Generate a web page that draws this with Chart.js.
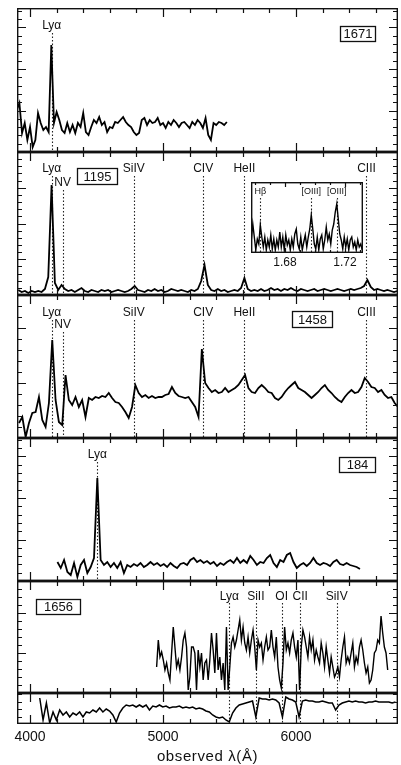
<!DOCTYPE html>
<html>
<head>
<meta charset="utf-8">
<script src="https://cdn.jsdelivr.net/npm/chart.js"></script>
<style>
  body { margin: 0; background: #fff; }
  #fig { position: relative; width: 401px; height: 765px; background: #fff; overflow: hidden; }
  #fig canvas { position: absolute; }
</style>
</head>
<body>
<div id="fig"></div>
<script>
// ---- wavelength axis (Angstrom) ----
const waveMin = 3902, waveMax = 6767;
const majorTicks = [4000, 5000, 6000];
const minorTicks = [4200, 4400, 4600, 4800, 5200, 5400, 5600, 5800, 6200, 6400, 6600];
const tickLabels = ["4000", "5000", "6000"];
const axisTitle = "observed λ(Å)";

// ---- 1671 ----
const p1Start = 3900, p1Step = 20;
const p1Flux = [42, 49, 19, 29, 12, 25, 5, 12, 39, 29, 22, 25, 20, 107, 29, 40, 32, 22, 19, 29,
  20, 27, 19, 29, 25, 39, 20, 17, 25, 32, 29, 35, 27, 30, 20, 25, 24, 30, 29, 32,
  35, 30, 27, 25, 20, 17, 19, 32, 34, 27, 32, 29, 30, 34, 27, 29, 24, 30, 27, 32,
  29, 25, 29, 30, 27, 24, 30, 27, 32, 29, 24, 34, 17, 12, 29, 27, 30, 29, 27, 30];
const p1Lines = [4163];
const p1Names = ["Lyα"];

// ---- 1195 ----
const p2Start = 3912, p2Step = 25;
const p2Flux = [5, 3, 4, 2, 4, 3, 4, 3, 6, 18, 110, 12, 5, 10, 6, 4, 5, 3, 5, 7,
  4, 3, 5, 4, 3, 5, 4, 5, 3, 4, 5, 4, 3, 4, 6, 9, 5, 4, 3, 5,
  4, 6, 4, 5, 3, 4, 6, 5, 4, 5, 4, 3, 5, 4, 6, 14, 30, 10, 5, 4,
  6, 4, 5, 3, 4, 5, 4, 7, 17, 6, 4, 5, 4, 6, 4, 5, 7, 5, 6, 4,
  6, 5, 7, 5, 4, 6, 5, 4, 5, 6, 4, 5, 6, 5, 4, 5, 6, 5, 4, 5,
  6, 5, 6, 7, 9, 15, 8, 5, 6, 5, 4, 5, 4, 3, 4];
const qsoLines = [4163, 4245, 4780, 5302, 5612, 6530];
const qsoNames = ["Lyα", "NV", "SiIV", "CIV", "HeII", "CIII"];

// inset: near-infrared, micron
const insetStart = 1.6575, insetStep = 0.001;
const insetFlux = [13, 29, 16, 3, 14, 9, 28, 16, 6, 16, 3, 13, 6, 18, 4, 14, 3, 13, 6, 21,
  6, 16, 3, 18, 8, 13, 3, 14, 6, 19, 24, 9, 4, 16, 3, 11, 18, 6, 16, 24,
  38, 24, 9, 4, 16, 3, 14, 18, 4, 13, 26, 13, 19, 9, 23, 29, 41, 49, 34, 19,
  13, 4, 16, 6, 14, 3, 13, 16, 6, 11, 3, 13, 6, 9, 3];
const insetLines = [1.6635, 1.6975, 1.7145];
const insetNames = ["Hβ", "[OIII]", "[OIII]"];
const insetMajor = [1.68, 1.72];
const insetMinor = [1.66, 1.67, 1.69, 1.70, 1.71, 1.73];
const insetLabels = ["1.68", "1.72"];

// ---- 1458 ----
const p3Start = 3917, p3Step = 25;
const p3Flux = [15, 21, 1, 15, 25, 26, 41, 18, 11, 35, 98, 38, 16, 13, 63, 38, 33, 41, 31, 38,
  21, 40, 38, 41, 40, 42, 41, 45, 40, 36, 35, 31, 26, 20, 31, 53, 45, 41, 43, 40,
  42, 40, 41, 41, 43, 44, 51, 45, 42, 41, 40, 41, 36, 31, 21, 89, 55, 50, 46, 48,
  45, 46, 50, 46, 48, 50, 53, 58, 63, 50, 46, 45, 50, 53, 50, 46, 45, 40, 38, 41,
  46, 50, 53, 56, 50, 48, 46, 43, 40, 43, 46, 50, 53, 48, 45, 41, 38, 36, 41, 45,
  48, 45, 46, 51, 60, 56, 51, 50, 46, 48, 43, 40, 41, 35, 31];

// ---- 184 ----
const p4Start = 4206, p4Step = 25;
const p4Flux = [19, 13, 21, 9, 6, 18, 4, 16, 21, 8, 14, 23, 103, 21, 16, 19, 14, 18, 13, 19,
  8, 16, 14, 17, 15, 18, 14, 16, 19, 16, 18, 15, 17, 14, 18, 15, 13, 17, 18, 16,
  21, 23, 19, 21, 18, 20, 17, 19, 15, 18, 16, 19, 21, 18, 23, 18, 21, 18, 25, 21,
  16, 19, 18, 23, 26, 18, 14, 21, 19, 26, 28, 19, 13, 16, 18, 15, 18, 23, 18, 16,
  18, 17, 15, 19, 21, 17, 16, 18, 16, 15, 14, 12];
const p4Lines = [4506];
const p4Names = ["Lyα"];

// ---- 1656 and the template below it ----
const p5Start = 4952, p5Step = 12.5;
const p5Flux = [26, 53, 36, 41, 33, 23, 30, 20, 13, 40, 66, 46, 26, 33, 23, 36, 53, 60, 46, 3,
  16, 46, 46, 40, 3, 43, 26, 40, 13, 30, 33, 13, 33, 60, 43, 20, 60, 23, 36, 13,
  30, 3, 66, 3, 26, 50, 56, 46, 53, 63, 73, 53, 66, 50, 43, 56, 40, 53, 63, 46,
  23, 53, 46, 50, 33, 46, 56, 43, 46, 63, 46, 36, 56, 26, 13, 5, 30, 66, 43, 50,
  40, 53, 60, 46, 36, 53, 3, 46, 63, 56, 46, 36, 56, 43, 53, 33, 43, 36, 30, 50,
  40, 26, 46, 33, 20, 36, 26, 16, 20, 26, 16, 33, 46, 56, 30, 36, 30, 40, 50, 26,
  36, 30, 46, 53, 43, 30, 20, 26, 10, 13, 23, 40, 43, 53, 50, 77, 60, 46, 40, 23];
const tplStart = 4073, tplStep = 25;
const tplFlux = [26, 4, 21, 1, 12, 4, 14, 9, 12, 7, 11, 9, 12, 7, 12, 11, 14, 12, 16, 12,
  15, 13, 9, 2, 11, 16, 19, 18, 19, 17, 19, 17, 19, 14, 18, 17, 19, 17, 18, 16,
  17, 17, 18, 16, 17, 16, 17, 15, 16, 15, 13, 12, 9, 7, 6, 7, 4, 2, 11, 16,
  19, 20, 21, 22, 23, 7, 26, 25, 25, 24, 25, 24, 21, 7, 27, 25, 24, 22, 7, 23,
  24, 23, 23, 22, 22, 23, 22, 21, 21, 14, 19, 21, 22, 23, 22, 23, 22, 22, 21, 22,
  22, 23, 22, 22, 22, 22, 21, 22];
const p5Lines = [5498, 5698, 5892, 6032, 6306];
const p5Names = ["Lyα", "SiII", "OI", "CII", "SiIV"];

// ---------------------------------------------------------------
const FONT = '"Liberation Sans", Arial, sans-serif';
const fig = document.getElementById("fig");

function spectrum(start, step, flux) {
  return flux.map((f, i) => ({ x: start + i * step, y: f }));
}

function makeCanvas(left, top, w, h) {
  const c = document.createElement("canvas");
  c.width = w; c.height = h;
  c.style.left = left + "px"; c.style.top = top + "px";
  c.style.width = w + "px"; c.style.height = h + "px";
  fig.appendChild(c);
  return c;
}

// frame, inward ticks, dotted line markers, labels and the id box
function decor(cfg) {
  return {
    id: "decor",
    beforeDatasetsDraw(chart) {
      const { ctx, chartArea: a, scales: { x } } = chart;
      if (cfg.fill) {
        ctx.fillStyle = "#fff";
        ctx.fillRect(a.left, a.top, a.right - a.left, a.bottom - a.top);
      }
      if (!cfg.lines) return;
      ctx.save();
      ctx.strokeStyle = "#222";
      ctx.lineWidth = 1.1;
      ctx.setLineDash([1.5, 2]);
      cfg.lines.forEach((w, i) => {
        const px = Math.round(x.getPixelForValue(w)) + 0.5;
        const row = cfg.rows ? cfg.rows[i] : 0;
        const y0 = cfg.dashTop ? a.top + cfg.dashTop[row] : a.top;
        ctx.beginPath();
        ctx.moveTo(px, y0);
        ctx.lineTo(px, a.bottom);
        ctx.stroke();
      });
      ctx.restore();
    },
    afterDraw(chart) {
      const { ctx, chartArea: a, scales: { x, y } } = chart;
      ctx.save();
      ctx.strokeStyle = "#111";
      ctx.lineWidth = 1.4;
      ctx.strokeRect(a.left + 0.7, a.top + 0.7, a.right - a.left - 1.4, a.bottom - a.top - 1.4);
      ctx.lineWidth = 1.2;

      const xTicks = (vals, len) => vals.forEach(v => {
        const px = Math.round(x.getPixelForValue(v)) + 0.5;
        ctx.beginPath();
        ctx.moveTo(px, a.top); ctx.lineTo(px, a.top + len);
        ctx.moveTo(px, a.bottom); ctx.lineTo(px, a.bottom - len);
        ctx.stroke();
      });
      xTicks(cfg.xMinor, cfg.tickLen[0]);
      xTicks(cfg.xMajor, cfg.tickLen[1]);

      if (cfg.yStep) {
        for (let n = 1; n * cfg.yStep < y.max; n++) {
          const py = Math.round(y.getPixelForValue(n * cfg.yStep)) + 0.5;
          const len = n % cfg.yMajorEvery === 0 ? 9 : 5;
          ctx.beginPath();
          ctx.moveTo(a.left, py); ctx.lineTo(a.left + len, py);
          ctx.moveTo(a.right, py); ctx.lineTo(a.right - len, py);
          ctx.stroke();
        }
      }

      ctx.fillStyle = "#111";
      ctx.textAlign = "center";
      ctx.textBaseline = "middle";
      if (cfg.names) {
        ctx.font = cfg.labelFont;
        cfg.names.forEach((name, i) => {
          const row = cfg.rows ? cfg.rows[i] : 0;
          ctx.fillText(name, x.getPixelForValue(cfg.lines[i]), a.top + cfg.labelY[row]);
        });
      }
      if (cfg.tag) {
        const t = cfg.tag;
        ctx.lineWidth = 1.3;
        ctx.strokeRect(a.left + t.x + 0.5, a.top + t.y + 0.5, t.w, t.h);
        ctx.font = "13px " + FONT;
        ctx.fillText(t.text, a.left + t.x + t.w / 2 + 0.5, a.top + t.y + t.h / 2 + 1);
      }
      if (cfg.tickText) {
        ctx.font = cfg.tickFont;
        cfg.tickText.forEach((s, i) => {
          ctx.fillText(s, x.getPixelForValue(cfg.xMajor[i]), a.bottom + cfg.tickTextDy);
        });
      }
      if (cfg.title) {
        ctx.font = "15px " + FONT;
        ctx.letterSpacing = "0.6px";
        ctx.fillText(cfg.title, (a.left + a.right) / 2, a.bottom + cfg.titleDy);
      }
      ctx.restore();
    }
  };
}

function panel(cfg) {
  const pad = 3;
  const below = cfg.below || pad;
  const c = makeCanvas(cfg.left - pad, cfg.top - pad, cfg.width + 2 * pad, cfg.height + pad + below);
  return new Chart(c, {
    type: "line",
    data: {
      datasets: [{
        data: cfg.points,
        borderColor: "#000",
        borderWidth: cfg.lineWidth || 1.8,
        pointRadius: 0,
        tension: 0,
        fill: false
      }]
    },
    options: {
      responsive: false,
      animation: false,
      events: [],
      layout: { padding: { left: pad, right: pad, top: pad, bottom: below } },
      scales: {
        x: { type: "linear", min: cfg.xMin, max: cfg.xMax, display: false },
        y: { type: "linear", min: 0, max: cfg.height, display: false }
      },
      plugins: { legend: { display: false }, tooltip: { enabled: false } }
    },
    plugins: [decor(cfg)]
  });
}

const base = {
  left: 17, width: 381, xMin: waveMin, xMax: waveMax,
  xMajor: majorTicks, xMinor: minorTicks, tickLen: [5, 9],
  labelFont: "12px " + FONT, yMajorEvery: 5
};

panel(Object.assign({}, base, {
  top: 8, height: 144, yStep: 8.3,
  points: spectrum(p1Start, p1Step, p1Flux),
  lines: p1Lines, names: p1Names, labelY: [18], dashTop: [25],
  tag: { text: "1671", x: 323, y: 18, w: 35, h: 15 }
}));

panel(Object.assign({}, base, {
  top: 152, height: 143, yStep: 7.15,
  points: spectrum(p2Start, p2Step, p2Flux),
  lines: qsoLines, names: qsoNames, rows: [0, 1, 0, 0, 0, 0],
  labelY: [17, 31], dashTop: [24, 38],
  tag: { text: "1195", x: 60, y: 16, w: 40, h: 16 }
}));

panel(Object.assign({}, base, {
  top: 295, height: 143, yStep: 11,
  points: spectrum(p3Start, p3Step, p3Flux),
  lines: qsoLines, names: qsoNames, rows: [0, 1, 0, 0, 0, 0],
  labelY: [18, 30], dashTop: [25, 37],
  tag: { text: "1458", x: 275, y: 16, w: 40, h: 16 }
}));

panel(Object.assign({}, base, {
  top: 438, height: 143, yStep: 8.3,
  points: spectrum(p4Start, p4Step, p4Flux),
  lines: p4Lines, names: p4Names, labelY: [17], dashTop: [24],
  tag: { text: "184", x: 322, y: 19, w: 36, h: 15 }
}));

panel(Object.assign({}, base, {
  top: 581, height: 112, yStep: 8,
  points: spectrum(p5Start, p5Step, p5Flux), lineWidth: 1.4,
  lines: p5Lines, names: p5Names, labelY: [16], dashTop: [22],
  tag: { text: "1656", x: 19, y: 18, w: 44, h: 15 }
}));

panel(Object.assign({}, base, {
  top: 693, height: 31, yStep: 7.5, below: 41,
  points: spectrum(tplStart, tplStep, tplFlux), lineWidth: 1.5,
  lines: p5Lines,
  tickText: tickLabels, tickFont: "14px " + FONT, tickTextDy: 13,
  title: axisTitle, titleDy: 33
}));

// inset on the 1195 panel
panel({
  left: 251, top: 182, width: 112, height: 71, below: 18, fill: true,
  xMin: 1.6573, xMax: 1.7320, xMajor: insetMajor, xMinor: insetMinor, tickLen: [3, 5],
  points: spectrum(insetStart, insetStep, insetFlux), lineWidth: 1.4,
  lines: insetLines, names: insetNames, labelY: [10], dashTop: [16],
  labelFont: "9px " + FONT,
  tickText: insetLabels, tickFont: "12px " + FONT, tickTextDy: 10
});
</script>
</body>
</html>
